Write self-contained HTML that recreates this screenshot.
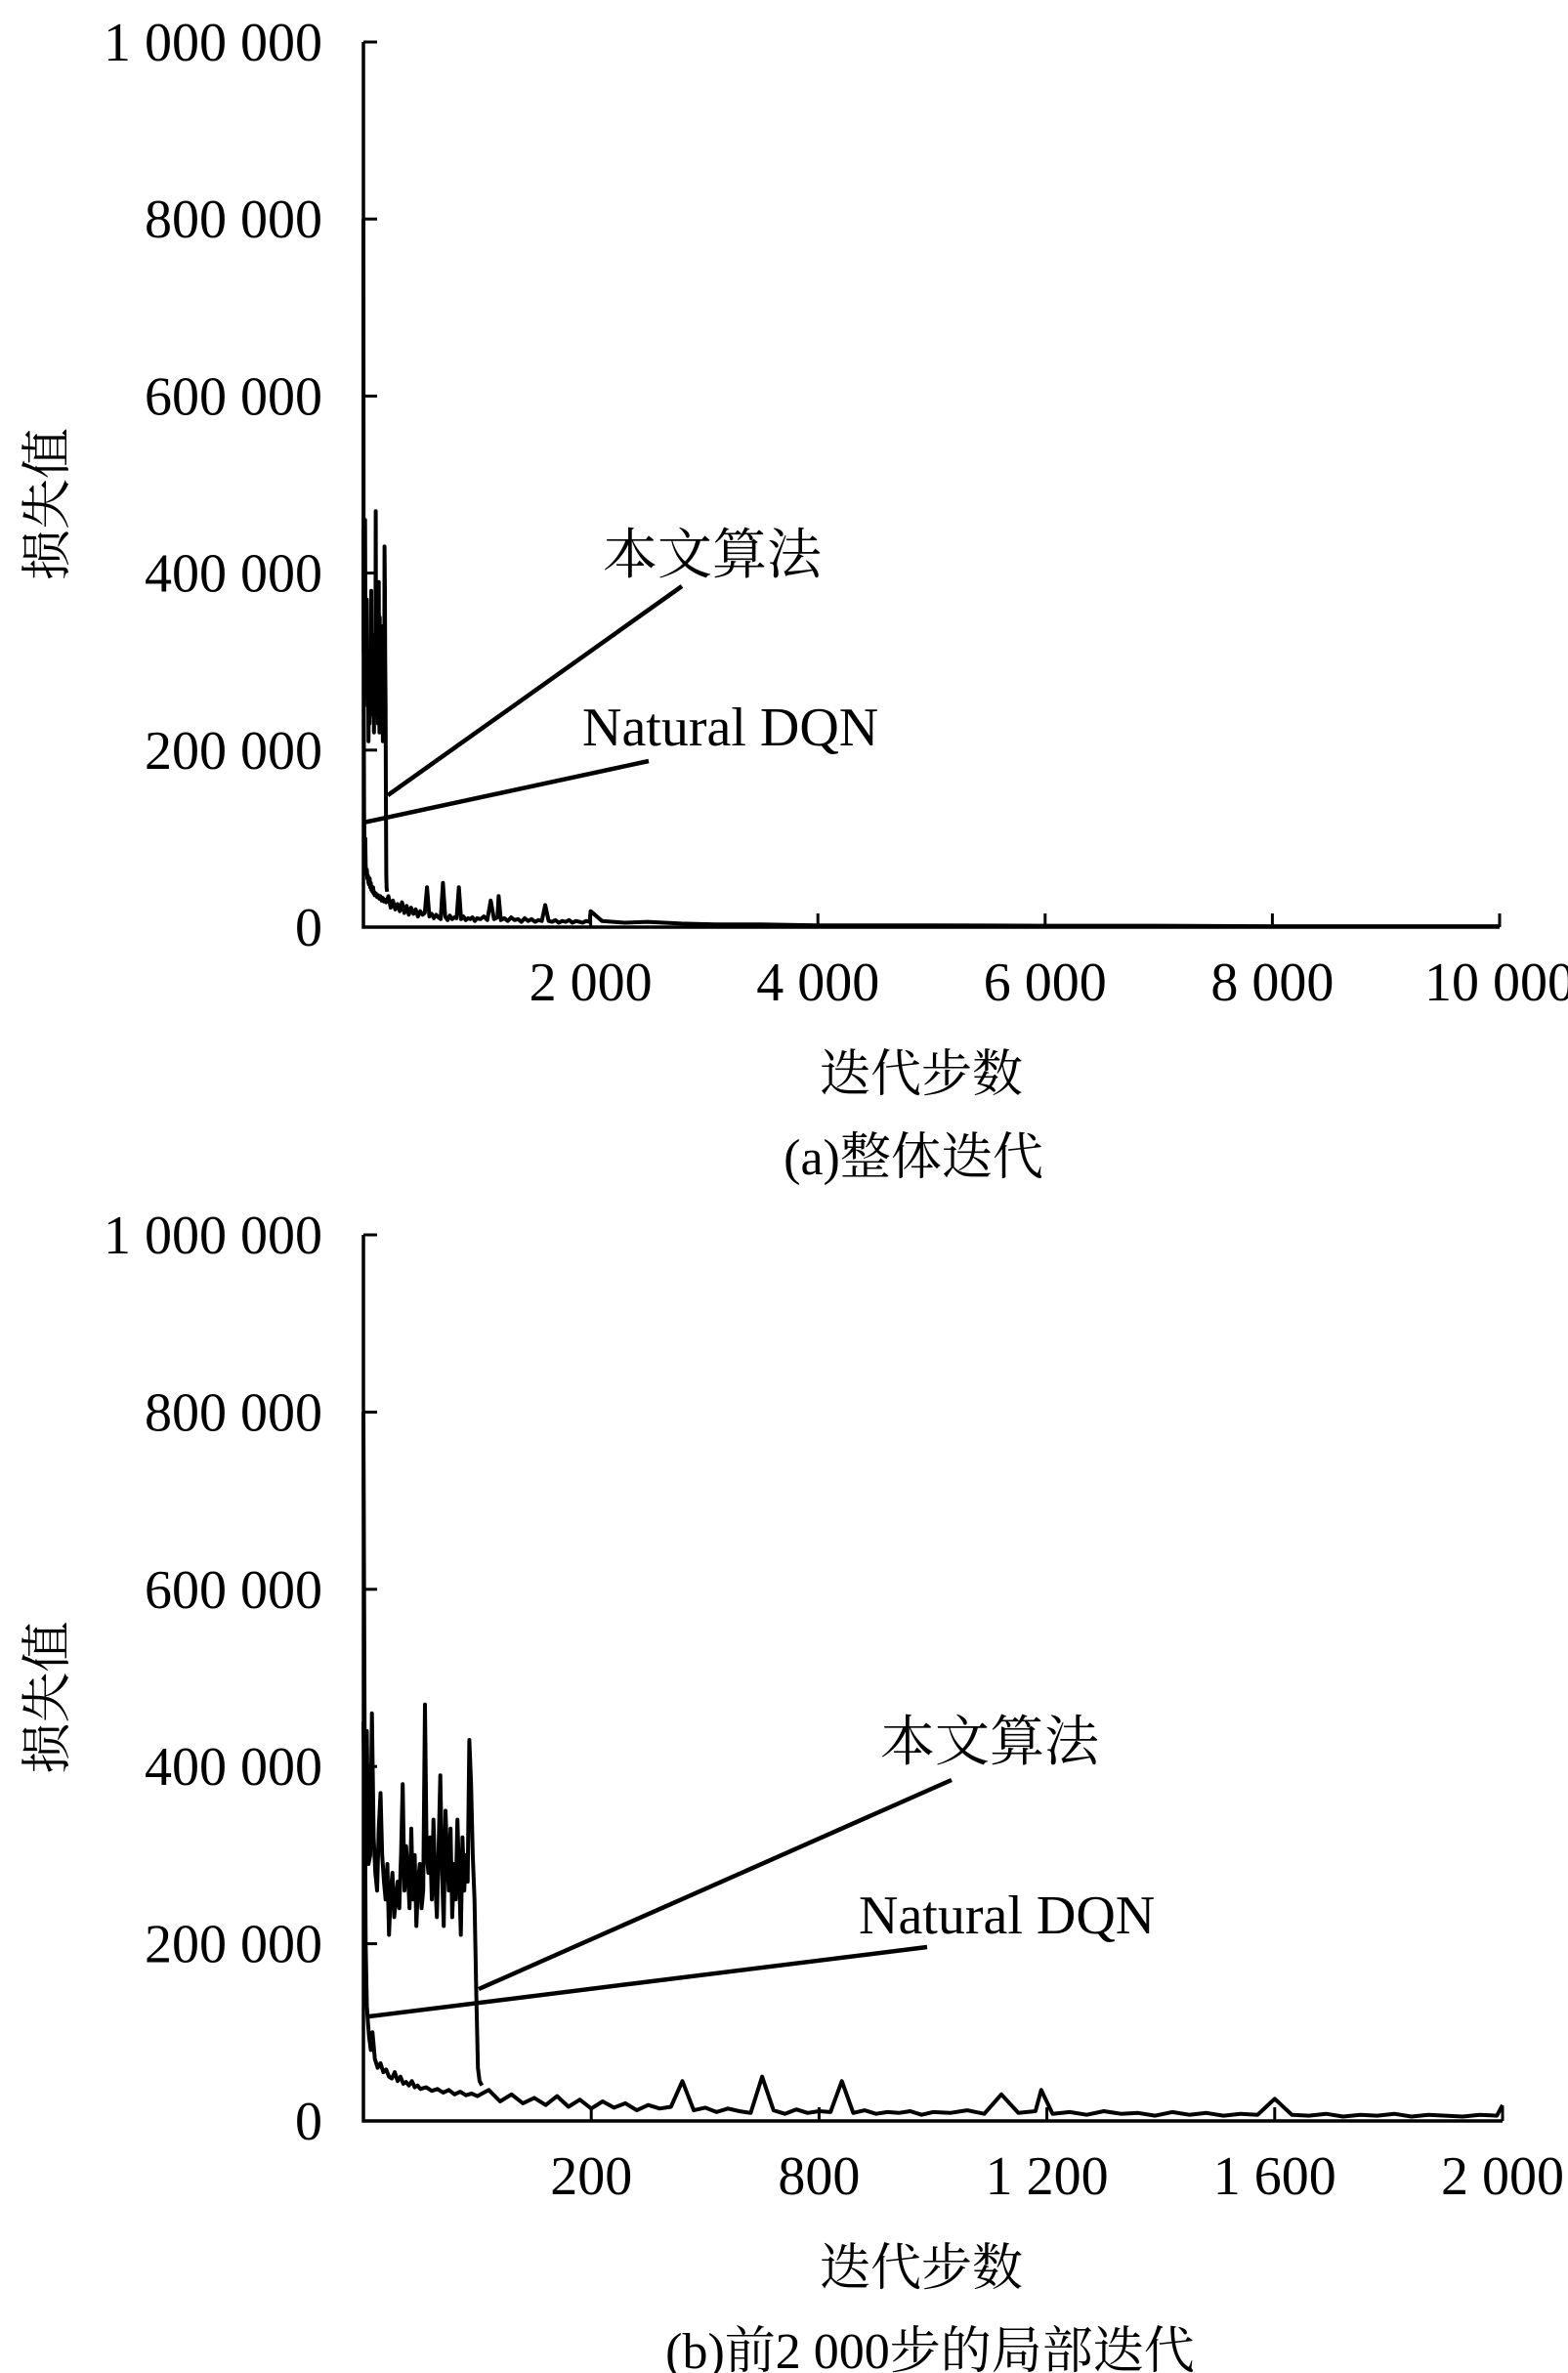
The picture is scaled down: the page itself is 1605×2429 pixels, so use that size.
<!DOCTYPE html>
<html><head><meta charset="utf-8"><style>
html,body{margin:0;padding:0;background:#fff;}
svg{display:block;}
text{font-family:"Liberation Serif","Noto Serif CJK SC","Noto Sans CJK SC",serif;fill:#000;}
</style></head><body>
<svg id="fig" width="1605" height="2429" viewBox="0 0 1605 2429" xmlns="http://www.w3.org/2000/svg"></svg>
<script>
// ---- data (loss values in thousands) ----
const yTickValues = [0, 200, 400, 600, 800, 1000];
const yTickLabels = ["0", "200 000", "400 000", "600 000", "800 000", "1 000 000"];
const xTicksA = [0, 2000, 4000, 6000, 8000, 10000];
const xLabelsA = ["", "2 000", "4 000", "6 000", "8 000", "10 000"];
const xTicksB = [0, 400, 800, 1200, 1600, 2000];
const xLabelsB = ["", "200", "800", "1 200", "1 600", "2 000"];
// 本文算法 early unstable phase, every 3 steps
const proposedSteps = [0,3,6,9,12,15,18,21,24,27,30,33,36,39,42,45,48,51,54,57,60,63,66,69,72,75,78,81,84,87,90,93,96,99,102,105,108,111,114,117,120,123,126,129,132,135,138,141,144,147,150,153,156,159,162,165,168,171,174,177,180,183,186,189,192,195,198,201,204,208];
const proposedValues = [450,310,440,290,300,460,320,280,260,330,370,300,270,250,290,210,260,280,230,250,270,240,300,380,260,310,280,240,330,250,300,220,270,290,240,260,470,300,280,320,250,340,270,230,310,390,280,220,350,300,260,330,230,290,250,340,280,210,320,260,300,270,430,380,300,250,150,60,45,40];
// Natural DQN decay
const dqnSteps = [0,2,4,6,8,10,13,16,20,25,30,35,40,45,50,55,60,65,70,75,80,85,90,95,100,110,120,130,140,150,160,170,180,190,200,
220,240,260,280,300,320,340,360,380,400,420,440,460,480,500,520,540,560,580,600,620,640,660,680,700,720,740,760,780,800,820,840,860,880,900,920,940,960,980,1000,
1030,1060,1090,1120,1150,1180,1190,1210,1240,1270,1300,1330,1360,1390,1420,1450,1480,1510,1540,1570,1600,1630,1660,1690,1720,1750,1780,1810,1840,1870,1900,1930,1960,1990,2000];
const dqnValues = [800,450,200,130,110,95,80,100,70,60,65,55,58,50,48,55,45,50,42,44,40,45,38,40,36,38,34,36,32,35,30,33,29,31,28,
35,22,30,20,26,18,28,16,24,14,22,15,20,12,18,14,16,45,12,15,10,14,11,9,50,12,8,13,9,11,10,45,9,12,8,10,9,11,7,10,
9,12,8,30,9,11,35,8,10,7,11,8,9,6,10,7,9,6,8,7,25,7,6,8,5,7,6,8,5,7,6,5,7,6,18];
// tail used in overall view
const tailSteps = [2100,2300,2500,2800,3100,3500,4000,4500,5000,6000,7000,8000,9000,10000];
const tailValues = [7,5,6,4,3,3,2,2,2,1.5,1.5,1,1,1];

const NS = "http://www.w3.org/2000/svg";
const svg = document.getElementById("fig");
function mk(tag, attrs, parent){
  const e = document.createElementNS(NS, tag);
  for (const k in attrs) e.setAttribute(k, attrs[k]);
  (parent||svg).appendChild(e);
  return e;
}
function drawChart(c){
  const g = mk("g", {});
  
  
  const sx = v => c.x0 + (v - c.xmin) / (c.xmax - c.xmin) * (c.x1 - c.x0);
  const sy = v => c.yb - v / 1000 * (c.yb - c.yt);
  function series(steps, vals, name, maxStep){
    let d = "";
    steps.forEach((s, i) => { if (s <= maxStep) d += (d ? "L" : "M") + sx(s).toFixed(1) + "," + sy(vals[i]).toFixed(1); });
    const p = mk("path", {d: d, fill: "none", stroke: "#000", "stroke-width": 4, "stroke-linejoin": "round"}, g);
    
    
  }
  series(dqnSteps.concat(c.tail ? tailSteps : []), dqnValues.concat(c.tail ? tailValues : []), "natural-dqn-line", c.xmax);
  series(proposedSteps, proposedValues, "proposed-algorithm-line", c.xmax);
  // axes
  const ax = mk("path", {d: `M${c.x0},${c.yt}L${c.x0},${c.yb}L${c.x1},${c.yb}`, fill: "none", stroke: "#000", "stroke-width": 3.5}, g);
  
  
  yTickValues.forEach((v, i) => {
    const y = sy(v);
    if (v > 0) mk("line", {x1: c.x0, x2: c.x0 + 14, y1: y, y2: y, stroke: "#000", "stroke-width": 3}, g);
    const t = mk("text", {x: 330, y: y + 19, "text-anchor": "end", "font-size": 56}, g);
    t.textContent = yTickLabels[i];
    
    
  });
  c.xt.forEach((v, i) => {
    const x = sx(v);
    if (v > 0) mk("line", {x1: x, x2: x, y1: c.yb, y2: c.yb - 14, stroke: "#000", "stroke-width": 3}, g);
    if (c.xl[i]) {
      const t = mk("text", {x: x, y: c.yb + 75, "text-anchor": "middle", "font-size": 56}, g);
      t.textContent = c.xl[i];
      
      
    }
  });
  const yt = mk("text", {x: 0, y: 0, "text-anchor": "middle", "font-size": 52, transform: `translate(66,${(c.yt + c.yb) / 2 + 20}) rotate(-90)`}, g);
  yt.textContent = "损失值";
  
  
  const xt = mk("text", {x: 943, y: c.yb + 168, "text-anchor": "middle", "font-size": 52}, g);
  xt.textContent = "迭代步数";
  
  
  const cap = mk("text", {x: c.capX, y: c.yb + 253, "text-anchor": "middle", "font-size": 52}, g);
  cap.textContent = c.caption;
  
  
  // annotations
  c.ann.forEach(a => {
    const t = mk("text", {x: a.tx, y: a.ty, "font-size": 56}, g);
    t.textContent = a.text;
    
    
    const l = mk("line", {x1: a.l[0], y1: a.l[1], x2: a.l[2], y2: a.l[3], stroke: "#000", "stroke-width": 4.5}, g);
    
    
  });
}
drawChart({name: "chart-overall", x0: 372, x1: 1535, yt: 43, yb: 949, xmin: 0, xmax: 10000, xt: xTicksA, xl: xLabelsA, tail: true,
  caption: "(a)整体迭代", capX: 935,
  ann: [{text: "本文算法", name: "proposed", tx: 617, ty: 587, l: [698, 600, 397, 814]},
        {text: "Natural DQN", name: "natural-dqn", tx: 596, ty: 763, l: [664, 779, 372, 842]}]});
drawChart({name: "chart-first-2000", x0: 372, x1: 1538, yt: 1264, yb: 2171, xmin: 0, xmax: 2000, xt: xTicksB, xl: xLabelsB, tail: false,
  caption: "(b)前2 000步的局部迭代", capX: 952,
  ann: [{text: "本文算法", name: "proposed", tx: 901, ty: 1802, l: [974, 1822, 490, 2036]},
        {text: "Natural DQN", name: "natural-dqn", tx: 879, ty: 1979, l: [949, 1993, 378, 2064]}]});
</script>
</body></html>
